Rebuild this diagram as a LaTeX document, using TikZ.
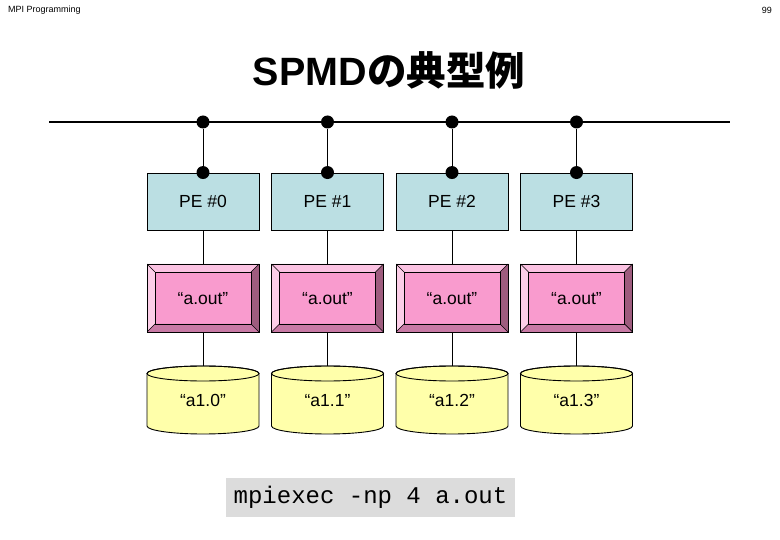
\documentclass[tikz,border=0pt]{standalone}
\usepackage{fontspec}
\setmainfont{Liberation Sans}
\setmonofont{Liberation Mono}
\newfontfamily\cjk{Noto Sans CJK JP}
\usetikzlibrary{calc}
\definecolor{pefill}{RGB}{187,223,227}
\definecolor{pinkmid}{RGB}{249,155,206}
\definecolor{pinktop}{RGB}{251,194,226}
\definecolor{pinkleft}{RGB}{252,206,232}
\definecolor{pinkright}{RGB}{158,92,126}
\definecolor{pinkbot}{RGB}{200,122,165}
\definecolor{cylfill}{RGB}{255,255,170}
\definecolor{cmdgray}{RGB}{220,220,220}
\tikzset{
  boxtext/.style={font=\fontsize{17.5}{20}\selectfont, text height=12.5pt, text depth=0pt},
  pebox/.style={boxtext, draw=black, fill=pefill, line width=0.9pt, minimum width=112pt, minimum height=57pt, inner sep=0pt},
  pinkbox/.style={boxtext, draw=black, fill=pinkmid, line width=0.9pt, minimum width=112pt, minimum height=68pt, inner sep=0pt,
    path picture={
      \path (path picture bounding box.south west) coordinate (bsw)
            (path picture bounding box.north east) coordinate (bne);
      \fill[pinktop] (bsw|-bne) -- (bne) -- ($(bne)+(-8,-8)$) -- ($(bsw|-bne)+(8,-8)$) -- cycle;
      \fill[pinkleft] (bsw|-bne) -- ($(bsw|-bne)+(8,-8)$) -- ($(bsw)+(8,8)$) -- (bsw) -- cycle;
      \fill[pinkright] (bne) -- (bne|-bsw) -- ($(bne|-bsw)+(-8,8)$) -- ($(bne)+(-8,-8)$) -- cycle;
      \fill[pinkbot] (bsw) -- ($(bsw)+(8,8)$) -- ($(bne|-bsw)+(-8,8)$) -- (bne|-bsw) -- cycle;
      \draw[line width=0.9pt] ($(bsw)+(8,8)$) rectangle ($(bne)+(-8,-8)$);
      \draw[line width=0.7pt] (bsw|-bne) -- ($(bsw|-bne)+(8,-8)$)
        (bne) -- ($(bne)+(-8,-8)$)
        (bsw) -- ($(bsw)+(8,8)$)
        (bne|-bsw) -- ($(bne|-bsw)+(-8,8)$);
    }},
  cylbox/.style={boxtext, minimum width=112pt, minimum height=68pt, inner sep=0pt},
  dot/.style={circle, fill=black, minimum size=13pt, inner sep=0pt},
  conn/.style={line width=0.9pt},
}
\begin{document}
\begin{tikzpicture}[x=1pt,y=1pt]
\useasboundingbox (0,0) rectangle (780,-540);
% header
\node[anchor=west, font=\fontsize{9}{10}\selectfont, inner sep=0pt] (hdr) at (8,-10) {MPI Programming};
\node[anchor=east, font=\fontsize{9}{10}\selectfont, inner sep=0pt] (pg) at (772,-10) {99};
% title
\node[font=\fontsize{39.5}{42}\selectfont\bfseries, inner sep=0pt] (title) at (389,-70) {SPMD{\cjk\bfseries の典型例}};
% bus
\coordinate (busL) at (49,-122);
\coordinate (busR) at (730,-122);
\draw[line width=1.3pt] (busL) -- (busR);
% cylinders bodies
\foreach \cx in {203,327.5,452,576.5}{
  \filldraw[fill=cylfill, draw=black, line width=0.9pt]
    (\cx-56,-373.5) -- (\cx-56,-426) arc[start angle=180, end angle=360, x radius=56, y radius=8]
    -- (\cx+56,-373.5) arc[start angle=0, end angle=180, x radius=56, y radius=7.5] -- cycle;
  \draw[line width=0.9pt] (\cx,-373.5) ellipse[x radius=56, y radius=7.5];
}
% nodes
\foreach \i/\cx in {0/203,1/327.5,2/452,3/576.5}{
  \node[pebox] (pe\i) at (\cx,-201.5) {PE \#\i};
  \node[pinkbox] (ao\i) at (\cx,-298) {“a.out”};
  \node[cylbox] (cy\i) at (\cx,-400) {“a1.\i”};
  \node[dot] (bd\i) at (\cx,-122) {};
  \node[dot] (td\i) at (pe\i.north) {};
  \draw[conn] (bd\i) -- (td\i);
  \draw[conn] (pe\i) -- (ao\i);
  \draw[conn] (ao\i) -- (cy\i);
}
% command
\node[fill=cmdgray, minimum width=289pt, minimum height=39pt, inner sep=0pt, font=\ttfamily\fontsize{24}{26}\selectfont] (cmd) at (370.5,-497.5) {mpiexec -np 4 a.out};
\end{tikzpicture}
\end{document}
